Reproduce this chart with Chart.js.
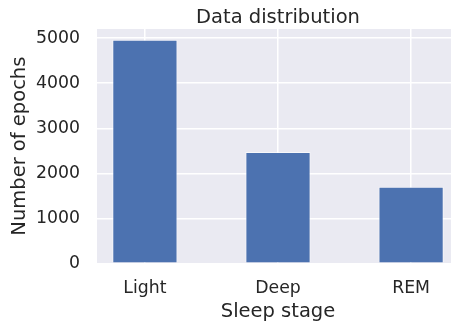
<!DOCTYPE html>
<html lang="en">
<head>
    <meta charset="UTF-8">
    <title>Data distribution</title>
    <script src="https://cdn.jsdelivr.net/npm/chart.js"></script>
    <style>
        html, body {
            margin: 0;
            padding: 0;
            background: #fff;
            width: 451px;
            height: 324px;
            overflow: hidden;
        }
        .chart-box {
            width: 460px;
            height: 324px;
        }
    </style>
</head>
<body>
    <div class="chart-box">
        <canvas id="distChart"></canvas>
    </div>

    <script>
        // data
        const stages = ['Light', 'Deep', 'REM'];
        const epochCounts = [4965, 2475, 1700];
        const yTicks = [0, 1000, 2000, 3000, 4000, 5000];
        const chartTitle = 'Data distribution';

        const textColor = '#262626';
        const fontFamily = "'DejaVu Sans', sans-serif";

        // seaborn-like grey panel behind the plot
        const panelBg = {
            id: 'panelBg',
            beforeDraw(chart) {
                const { ctx, chartArea } = chart;
                ctx.save();
                ctx.fillStyle = '#eaeaf2';
                ctx.fillRect(chartArea.left, chartArea.top, chartArea.right - chartArea.left, chartArea.bottom - chartArea.top);
                ctx.restore();
            }
        };

        // title centred over the axes (not the whole canvas), like matplotlib
        const axesTitle = {
            id: 'axesTitle',
            afterDraw(chart) {
                const { ctx, chartArea } = chart;
                ctx.save();
                ctx.fillStyle = textColor;
                ctx.font = "19.5px 'DejaVu Sans', sans-serif";
                ctx.textAlign = 'center';
                ctx.textBaseline = 'alphabetic';
                ctx.fillText(chartTitle, (chartArea.left + chartArea.right) / 2, chartArea.top - 6);
                ctx.restore();
            }
        };

        const ctx = document.getElementById('distChart').getContext('2d');
        new Chart(ctx, {
            type: 'bar',
            data: {
                datasets: [{
                    data: stages.map((s, i) => ({ x: i, y: epochCounts[i] })),
                    backgroundColor: '#4c72b0',
                    borderColor: 'rgba(255, 255, 255, 0.6)',
                    borderWidth: 1,
                    categoryPercentage: 1,
                    barPercentage: 0.49
                }]
            },
            options: {
                responsive: true,
                maintainAspectRatio: false,
                animation: false,
                layout: { padding: { left: 0, right: 1, top: 29, bottom: 0 } },
                plugins: {
                    legend: { display: false },
                    tooltip: { enabled: false },
                    title: { display: false }
                },
                scales: {
                    x: {
                        type: 'linear',
                        offset: false,
                        min: -0.36,
                        max: 2.36,
                        afterBuildTicks: (scale) => {
                            scale.ticks = stages.map((s, i) => ({ value: i }));
                        },
                        afterFit: (scale) => { scale.height = 60.7; },
                        ticks: {
                            color: textColor,
                            font: { family: fontFamily, size: 17.3 },
                            padding: 15,
                            autoSkip: false,
                            maxRotation: 0,
                            callback: (v) => stages[v]
                        },
                        grid: { color: '#ffffff', lineWidth: 1.5, drawTicks: false, offset: false },
                        border: { display: false },
                        title: {
                            display: true,
                            text: 'Sleep stage',
                            color: textColor,
                            font: { family: fontFamily, size: 19.5 },
                            padding: { top: 0, bottom: 0 }
                        }
                    },
                    y: {
                        min: 0,
                        max: 5205,
                        afterBuildTicks: (scale) => {
                            scale.ticks = yTicks.map(v => ({ value: v }));
                        },
                        afterFit: (scale) => { scale.width = 97; },
                        ticks: {
                            color: textColor,
                            font: { family: fontFamily, size: 17.3 },
                            padding: 17,
                            callback: (v) => String(v)
                        },
                        grid: { color: '#ffffff', lineWidth: 1.5, drawTicks: false },
                        border: { display: false },
                        title: {
                            display: true,
                            text: 'Number of epochs',
                            color: textColor,
                            font: { family: fontFamily, size: 19.5 },
                            padding: { top: 8, bottom: 4 }
                        }
                    }
                }
            },
            plugins: [panelBg, axesTitle]
        });
    </script>
</body>
</html>
